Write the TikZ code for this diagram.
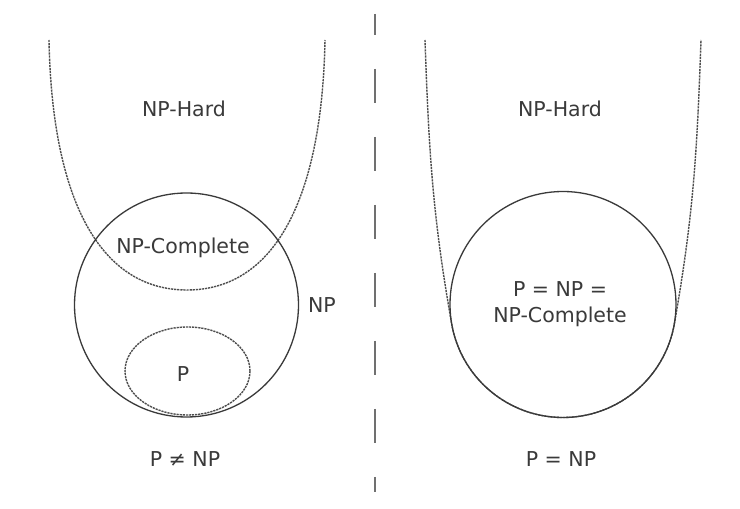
\documentclass[tikz,border=0pt]{standalone}
\usepackage{fontspec}
\setmainfont{DejaVu Sans}
\definecolor{ink}{HTML}{3A3A3A}
\definecolor{hard}{HTML}{4E4E4E}
\definecolor{rule}{HTML}{707070}

\begin{document}
\begin{tikzpicture}[x=1pt,y=1pt,
    setline/.style={draw=ink,line width=1.3pt},
    hardline/.style={draw=hard,line width=1.4pt,dash pattern=on 2.2pt off 0.9pt},
    divider/.style={draw=rule,line width=2pt,dash pattern=on 34pt off 34pt,dash phase=13pt},
    lbl/.style={font=\fontsize{20.5}{26}\selectfont,text=ink,inner sep=0pt,align=center,anchor=base}]
  \useasboundingbox[fill=white] (0,0) rectangle (740,509);
  % left half: P != NP
  \draw[hardline] (49,469) .. controls (52,309) and (100,219) .. (187,219)
    .. controls (274,219) and (322,309) .. (325,469);
  \draw[setline] (186.5,204) circle[radius=112];
  \draw[hardline] (187.5,138) ellipse[x radius=62.5,y radius=44];
  \node[lbl] (hardL) at (184,392) {NP-Hard};
  \node[lbl] (compL) at (183,255) {NP-Complete};
  \node[lbl] (npL) at (322,196) {NP};
  \node[lbl] (pL) at (183,127) {P};
  \node[lbl] (neq) at (185,42) {P ≠ NP};
  % divider
  \coordinate (top) at (375,495);
  \coordinate (bot) at (375,17);
  \draw[divider] (top) -- (bot);
  % right half: P = NP
  \draw[hardline] (425,469) .. controls (428.9,358) and (432.4,294.2) .. ([shift={(190:113)}]563,204.5)
    arc[start angle=190,end angle=350,radius=113]
    .. controls (693.6,294.2) and (697.1,358) .. (701,469);
  \draw[setline] (563,204.5) circle[radius=113];
  \node[lbl] (hardR) at (560,392) {NP-Hard};
  \node[lbl] (allR) at (560,186) {P = NP =\\NP-Complete};
  \node[lbl] (eq) at (561,42) {P = NP};
\end{tikzpicture}
\end{document}
